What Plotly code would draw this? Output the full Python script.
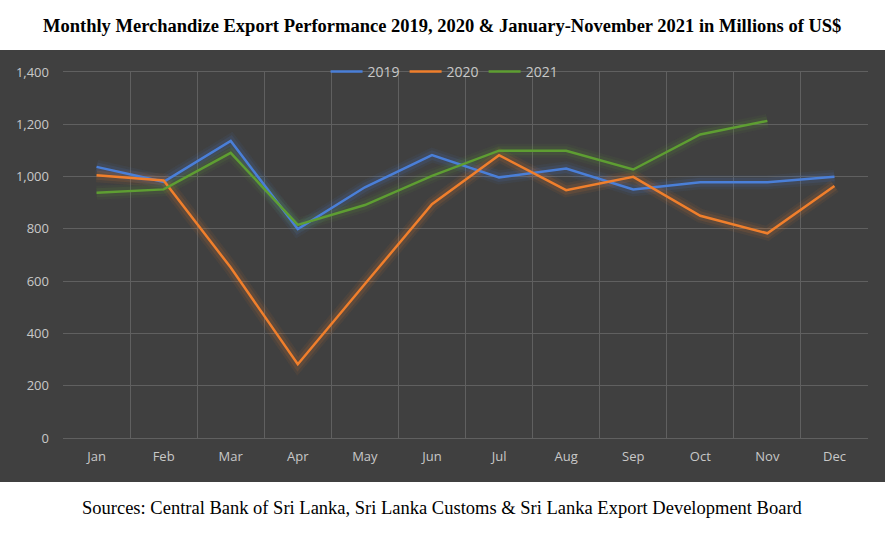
import plotly.graph_objects as go

months = ["Jan", "Feb", "Mar", "Apr", "May", "Jun", "Jul", "Aug", "Sep", "Oct", "Nov", "Dec"]
exports_2019 = [1037, 980, 1136, 799, 959, 1082, 997, 1031, 951, 978, 978, 999]
exports_2020 = [1005, 985, 652, 282, 589, 894, 1082, 948, 999, 850, 783, 964]
exports_2021 = [938, 951, 1091, 815, 891, 1003, 1099, 1099, 1027, 1161, 1213]
y_ticks = [0, 200, 400, 600, 800, 1000, 1200, 1400]

series = [
    ("2019", exports_2019, "#4A7FD8"),
    ("2020", exports_2020, "#F07F2C"),
    ("2021", exports_2021, "#5E9E32"),
]

fig = go.Figure()

# glow layers
for name, vals, col in series:
    r, g, b = int(col[1:3], 16), int(col[3:5], 16), int(col[5:7], 16)
    for w, a in [(14, 0.07), (9, 0.12)]:
        fig.add_trace(go.Scatter(
            x=months[:len(vals)], y=vals, mode="lines",
            line=dict(color=f"rgba({r},{g},{b},{a})", width=w),
            showlegend=False, hoverinfo="skip"))

for name, vals, col in series:
    fig.add_trace(go.Scatter(
        x=months[:len(vals)], y=vals, mode="lines", name=name,
        line=dict(color=col, width=2.5)))

bg = "#404040"
grid = "#606060"
txt = "#C8C8C8"

fig.add_shape(type="rect", xref="paper", yref="paper",
              x0=-0.08, x1=1.03, y0=(438 - 482) / 366, y1=(438 - 50) / 366,
              fillcolor=bg, line=dict(width=0), layer="below")

fig.update_layout(
    width=885, height=540,
    margin=dict(l=63, r=17, t=72, b=102),
    paper_bgcolor="white", plot_bgcolor=bg,
    font=dict(family="Open Sans, Noto Sans, sans-serif", color=txt, size=12),
    legend=dict(orientation="h", x=0.474, xanchor="center", y=1.0, yanchor="middle",
                bgcolor="rgba(0,0,0,0)", font=dict(size=14, color=txt),
                itemwidth=32),
    showlegend=True,
)

fig.update_xaxes(
    type="category", categoryorder="array", categoryarray=months,
    range=[-0.5, 11.5], tickson="boundaries", showgrid=True, gridcolor=grid,
    gridwidth=1, ticks="", tickfont=dict(size=13, color=txt),
    ticklabelstandoff=6, zeroline=False,
    showline=True, linecolor=grid, mirror=True,
)
fig.update_yaxes(
    range=[0, 1400], tickvals=y_ticks, tickformat=",d", showgrid=True,
    gridcolor=grid, gridwidth=1, zeroline=False, ticks="",
    tickfont=dict(size=13, color=txt), ticklabelstandoff=13,
    showline=False,
)

fig.add_annotation(
    text="<b>Monthly Merchandize Export Performance 2019, 2020 &amp; January-November 2021 in Millions of US$</b>",
    xref="paper", yref="paper", x=(442 - 63) / 805, y=(438 - 26) / 366,
    xanchor="center", yanchor="middle", showarrow=False,
    font=dict(family="Liberation Serif, Times New Roman, serif", size=18.5, color="black"))

fig.add_annotation(
    text="Sources: Central Bank of Sri Lanka, Sri Lanka Customs &amp; Sri Lanka Export Development Board",
    xref="paper", yref="paper", x=(442 - 63) / 805, y=(438 - 508) / 366,
    xanchor="center", yanchor="middle", showarrow=False,
    font=dict(family="Liberation Serif, Times New Roman, serif", size=18.5, color="black"))

fig.write_html("out.html", config={"displayModeBar": False},
               post_script="document.body.style.margin='0';document.body.style.overflow='hidden';")
